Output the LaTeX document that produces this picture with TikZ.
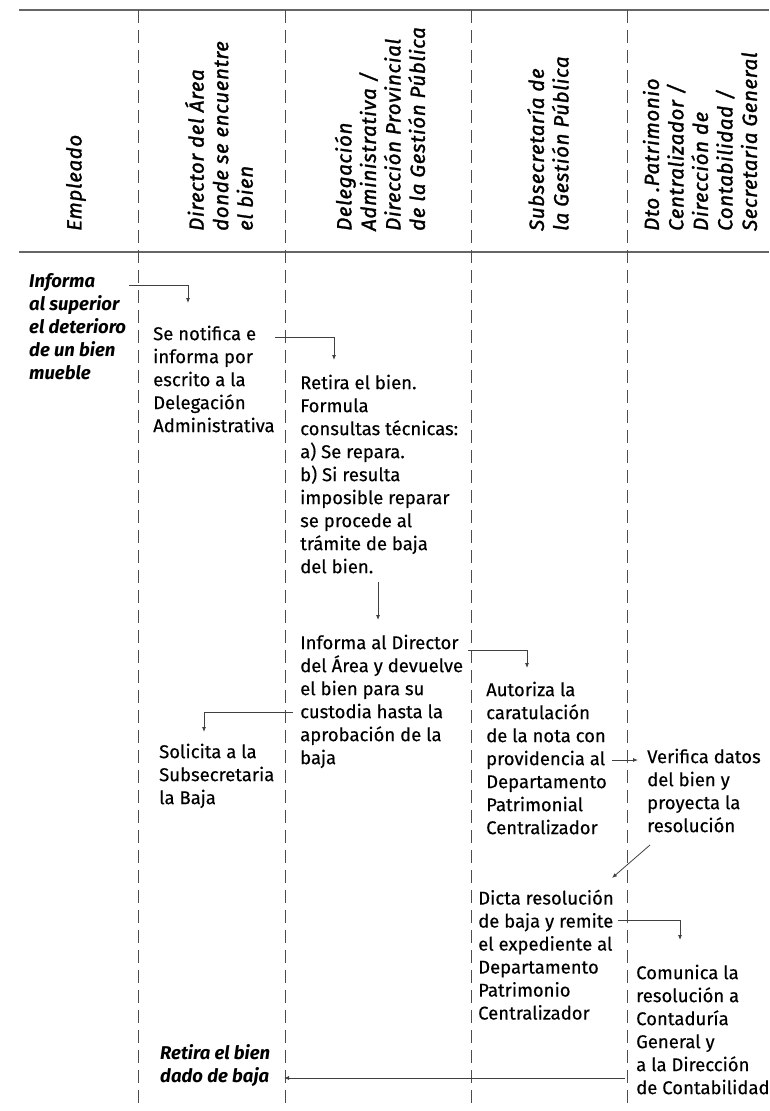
\documentclass[tikz,border=0pt]{standalone}
\usepackage{fontspec}
\setmainfont{Fira Sans}[UprightFeatures={FakeBold=0.3}]
\newfontfamily\cabecera{Fira Sans}[LetterSpace=3,ItalicFeatures={FakeBold=1.6}]
\usetikzlibrary{arrows.meta,calc}

\begin{document}
\begin{tikzpicture}[x=1pt,y=-1pt]
    \tikzset{% This is the style settings for nodes
    carril/.style={dash pattern=on 13pt off 7pt, line width=0.9pt, black!70},
    borde/.style={line width=1.3pt, black!60},
    titulo/.style={rotate=90, anchor=west, align=left, inner sep=0pt, font=\fontsize{20.5}{24.5}\selectfont\cabecera\itshape},
    paso/.style={anchor=north west, align=left, inner sep=0pt, font=\fontsize{18.5}{23}\selectfont},
    clave/.style={paso, font=\fontsize{18.5}{23}\selectfont\bfseries\itshape},
    flujo/.style={line width=0.8pt, black!75, -{Latex[length=5pt,width=4pt]}},
    }
    \useasboundingbox (0,0) rectangle (769,1111);

    % Lanes
    \draw[borde] (19,10) -- (769,10);
    \draw[borde] (19,252) -- (769,252);
    \foreach \x in {138,285,471,627}
        \draw[carril] (\x,10) -- (\x,1108);

    % Headers
    \node[titulo] (h1) at (76,231) {Empleado};
    \node[titulo] (h2) at (219,231) {Director del Área\\donde se encuentre\\el bien};
    \node[titulo] (h3) at (380,231) {Delegación\\Administrativa /\\Dirección Provincial\\de la Gestión Pública};
    \node[titulo] (h4) at (548,231) {Subsecretaría de\\la Gestión Pública};
    \node[titulo] (h5) at (700,231) {Dto .Patrimonio\\Centralizador /\\Dirección de\\Contabilidad /\\Secretaria General};

    % Nodes
    \node[clave] (info) at (29,273.5) {Informa\\al superior\\el deterioro\\de un bien\\mueble};
    \node[paso] (notif) at (153,325.5) {Se notifica e\\informa por\\escrito a la\\Delegación\\Administrativa};
    \node[paso] (retira) at (300,374.5) {Retira el bien.\\Formula\\consultas técnicas:\\a) Se repara.\\b) Si resulta\\imposible reparar\\se procede al\\trámite de baja\\del bien.};
    \node[paso] (devuelve) at (300,634.5) {Informa al Director\\del Área y devuelve\\el bien para su\\custodia hasta la\\aprobación de la\\baja};
    \node[paso] (solicita) at (159,743.5) {Solicita a la\\Subsecretaria\\la Baja};
    \node[paso] (autoriza) at (486,681.5) {Autoriza la\\caratulación\\de la nota con\\providencia al\\Departamento\\Patrimonial\\Centralizador};
    \node[paso] (verifica) at (647,748.5) {Verifica datos\\del bien y\\proyecta la\\resolución};
    \node[paso] (dicta) at (478,889.5) {Dicta resolución\\de baja y remite\\el expediente al\\Departamento\\Patrimonio\\Centralizador};
    \node[paso] (comunica) at (636,964.5) {Comunica la\\resolución a\\Contaduría\\General y\\a la Dirección\\de Contabilidad};
    \node[clave] (baja) at (160,1044.5) {Retira el bien\\dado de baja};

    %Edges
    \draw[flujo] ($(info.north west)+(100,11.5)$) -| ($(notif.north west)+(35,-22.5)$);
    \draw[flujo] ($(notif.north west)+(122,11.5)$) -| ($(retira.north west)+(34,-14.5)$);
    \draw[flujo] ($(retira.north west)+(78,207.5)$) -- ($(devuelve.north west)+(78,-14.5)$);
    \draw[flujo] ($(devuelve.north west)+(168,15.5)$) -| ($(autoriza.north west)+(41,-13.5)$);
    \draw[flujo] ($(devuelve.north west)+(-7,77.5)$) -| ($(solicita.north west)+(45,-11.5)$);
    \draw[flujo] ($(autoriza.north west)+(126,78.5)$) -- ($(verifica.north west)+(-9,11.5)$);
    \draw[flujo] ($(verifica.north west)+(3,96.5)$) -- ($(dicta.north west)+(134,-11.5)$);
    \draw[flujo] ($(dicta.north west)+(140,30.5)$) -| ($(comunica.north west)+(44,-24.5)$);
    \draw[flujo] ($(comunica.north west)+(-11,113.5)$) -- ($(baja.north west)+(124,33.5)$);

\end{tikzpicture}
\end{document}
